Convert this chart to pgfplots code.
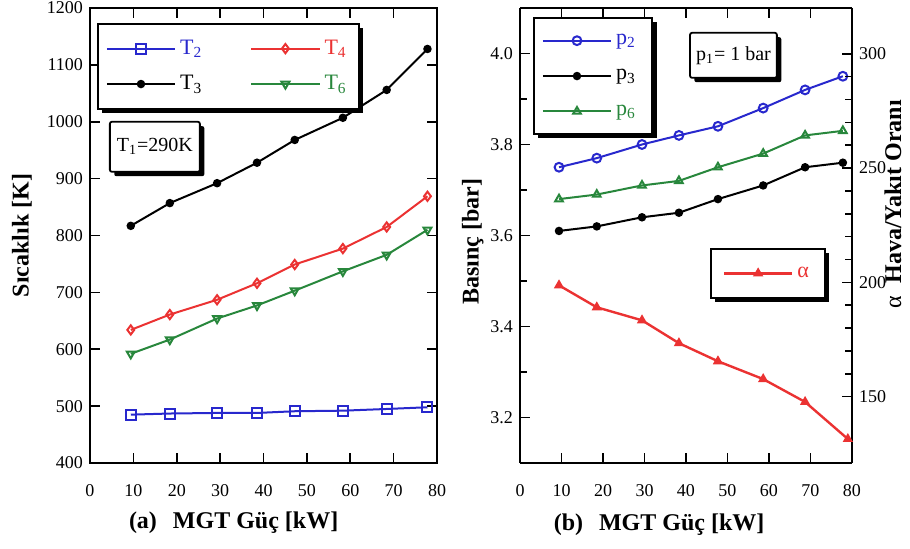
\documentclass[border=0pt]{standalone}
\usepackage{pgfplots}
\pgfplotsset{compat=1.18}
\usepackage{fontspec}
\setmainfont{Liberation Serif}
\usetikzlibrary{shadows}
\definecolor{tblue}{RGB}{40,40,205}
\definecolor{tred}{RGB}{235,50,50}
\definecolor{tgreen}{RGB}{40,135,60}

\makeatletter
\tikzset{no preactions/.code={\let\tikz@preactions\pgfutil@empty}}
\makeatother
\tikzset{
  infobox/.style={draw=black, line width=0.9pt, fill=white, rounded corners=1pt,
    drop shadow={fill=black, opacity=1, shadow xshift=2.2pt, shadow yshift=-2.2pt},
    font=\fontsize{10}{12}\selectfont, inner sep=3pt},
}
\pgfplotsset{
  mgt/.style={
    scale only axis,
    clip mode=individual,
    height=227.5pt,
    xmin=0, xmax=80,
    xtick={0,10,...,80},
    tick align=inside,
    major tick length=5pt,
    minor tick length=3.5pt,
    axis line style={line width=1pt},
    every tick/.style={black, line width=0.8pt},
    tick label style={font=\fontsize{9}{10}\selectfont},
    xticklabel style={yshift=-7pt},
    /pgf/number format/assume math mode=true,
    /pgf/number format/1000 sep={},
    label style={font=\bfseries\fontsize{12}{14}\selectfont},
    legend cell align=left,
    legend image code/.code={\draw[no preactions, mark repeat=2, mark phase=2] plot coordinates {(0cm,0cm) (0.6cm,0cm) (1.2cm,0cm)};},
    legend style={draw=black, line width=0.9pt, fill=white,
      drop shadow={fill=black, opacity=1, shadow xshift=2.2pt, shadow yshift=-2.2pt},
      font=\fontsize{11}{12}\selectfont, row sep=5pt, inner xsep=4pt, inner ysep=6pt},
  },
}

\begin{document}
\begin{tikzpicture}
\useasboundingbox (0,0) rectangle (455pt,-274.5pt);

% (a) temperatures
\begin{axis}[mgt,
  at={(45pt,-231.5pt)}, anchor=south west,
  width=173.5pt,
  ymin=400, ymax=1200,
  ytick={400,500,...,1200},
  xlabel={(a)\hspace{8pt}MGT Güç [kW]},
  xlabel style={at={(axis description cs:0.414,-0.132)}, anchor=center},
  ylabel={Sıcaklık [K]},
  ylabel style={at={(axis description cs:-0.196,0.5)}, anchor=center},
  legend columns=2,
  legend style={at={(axis description cs:0.02,0.967)}, anchor=north west,
    /tikz/every even column/.append style={column sep=22pt}},
]
\addplot[tblue, line width=1pt, mark=square, mark size=2.5pt, mark options={solid, line width=1pt}]
  coordinates {(9.4,485) (18.4,487) (29.3,488) (38.5,488) (47.2,491) (58.3,492) (68.4,495) (77.8,498)};
\addlegendentry{\textcolor{tblue}{T\textsubscript{2}}}
\addplot[tred, line width=1pt, mark=diamond, mark size=2.3pt, mark options={solid}]
  coordinates {(9.4,634) (18.4,661) (29.3,687) (38.5,716) (47.2,749) (58.3,777) (68.4,815) (77.8,869)};
\addlegendentry{\textcolor{tred}{T\textsubscript{4}}}
\addplot[black, line width=1pt, mark=*, mark size=1.6pt]
  coordinates {(9.4,817) (18.4,857) (29.3,892) (38.5,928) (47.2,968) (58.3,1007) (68.4,1056) (77.8,1128)};
\addlegendentry{T\textsubscript{3}}
\addplot[tgreen, line width=1pt, mark=triangle, mark size=2.3pt, mark options={solid, rotate=180}]
  coordinates {(9.4,592) (18.4,617) (29.3,654) (38.5,677) (47.2,703) (58.3,737) (68.4,766) (77.8,810)};
\addlegendentry{\textcolor{tgreen}{T\textsubscript{6}}}
\node[infobox, minimum width=45pt, minimum height=25pt] at (axis description cs:0.187,0.695) {T\textsubscript{1}=290K};
\end{axis}

% (b) pressures
\begin{axis}[mgt,
  at={(260pt,-231.5pt)}, anchor=south west,
  width=166pt,
  axis y line*=left,
  ymin=3.1, ymax=4.1,
  ytick={3.2,3.4,3.6,3.8,4.0},
  minor y tick num=1,
  yticklabel style={/pgf/number format/.cd, fixed, fixed zerofill, precision=1},
  xlabel={(b)\hspace{8pt}MGT Güç [kW]},
  xlabel style={at={(axis description cs:0.419,-0.136)}, anchor=center},
  ylabel={Basınç [bar]},
  ylabel style={at={(axis description cs:-0.142,0.486)}, anchor=center},
  legend style={at={(axis description cs:0.039,0.98)}, anchor=north west, row sep=7pt, inner ysep=6pt},
]
\addplot[tblue, line width=1pt, mark=o, mark size=2.2pt, mark options={solid, line width=1pt}]
  coordinates {(9.4,3.75) (18.5,3.77) (29.4,3.80) (38.3,3.82) (47.7,3.84) (58.6,3.88) (68.7,3.92) (77.8,3.95)};
\addlegendentry{\makebox[12pt][l]{\textcolor{tblue}{p\textsubscript{2}}}}
\addplot[black, line width=1pt, mark=*, mark size=1.6pt]
  coordinates {(9.4,3.61) (18.5,3.62) (29.4,3.64) (38.3,3.65) (47.7,3.68) (58.6,3.71) (68.7,3.75) (77.8,3.76)};
\addlegendentry{\makebox[12pt][l]{p\textsubscript{3}}}
\addplot[tgreen, line width=1pt, mark=triangle, mark size=2.2pt, mark options={solid}]
  coordinates {(9.4,3.68) (18.5,3.69) (29.4,3.71) (38.3,3.72) (47.7,3.75) (58.6,3.78) (68.7,3.82) (77.8,3.83)};
\addlegendentry{\makebox[12pt][l]{\textcolor{tgreen}{p\textsubscript{6}}}}
\node[infobox, minimum width=41.5pt, minimum height=22.5pt] at (axis description cs:0.643,0.896) {p\textsubscript{1}= 1 bar};
\end{axis}

% (b) air/fuel ratio
\begin{axis}[mgt,
  at={(260pt,-231.5pt)}, anchor=south west,
  width=166pt,
  axis x line=none,
  axis y line*=right,
  ymin=121, ymax=320,
  ytick={150,200,250,300},
  minor y tick num=4,
  legend style={at={(axis description cs:0.572,0.473)}, anchor=north west, inner ysep=7pt, inner xsep=6pt},
]
\addplot[tred, line width=1.2pt, mark=triangle*, mark size=1.8pt, mark options={solid}]
  coordinates {(9.4,198.7) (18.5,189.1) (29.4,183.4) (38.3,173.4) (47.7,165.5) (58.6,157.7) (68.7,147.7) (79.0,131.5)};
\addlegendentry{\textcolor{tred}{α}}
\node[rotate=90, anchor=center, font=\fontsize{12}{14}\selectfont]
  at (axis description cs:1.123,0.569) {α\hspace{6pt}\textbf{Hava/Yakıt Oranı}};
\end{axis}
\end{tikzpicture}
\end{document}
